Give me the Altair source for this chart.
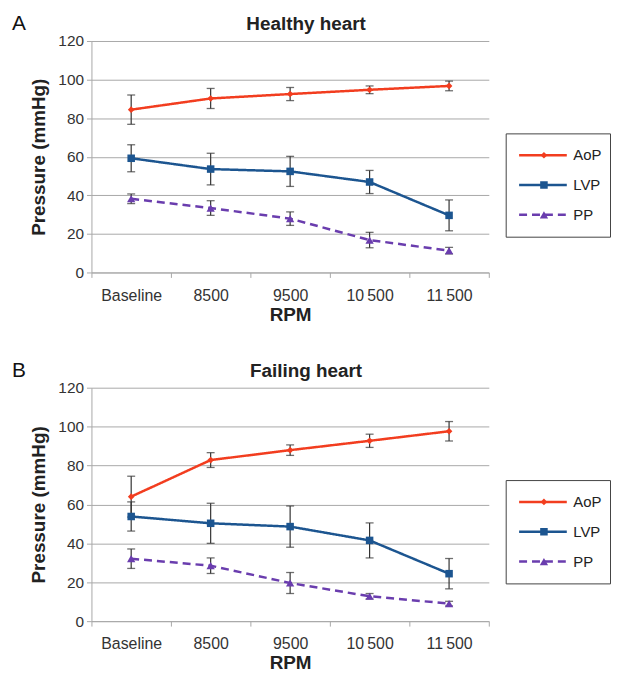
import altair as alt
import pandas as pd

rpm = ["Baseline", "8500", "9500", "10\u2009500", "11\u2009500"]
series = ["AoP", "LVP", "PP"]
colors = ["#F23D1F", "#1C5590", "#6A3DAE"]
panels = ["A", "B"]
panel_titles = ["Healthy heart", "Failing heart"]

# Healthy heart
h_aop = [84.4, 90.2, 92.5, 94.7, 96.7]
h_aop_err = [7.6, 5.2, 3.4, 2.0, 2.5]
h_lvp = [59.2, 53.6, 52.4, 46.9, 29.6]
h_lvp_err = [7.0, 8.2, 7.8, 6.0, 8.0]
h_pp = [38.2, 33.4, 27.9, 16.8, 11.3]
h_pp_err = [2.5, 3.8, 3.5, 4.0, 1.7]

# Failing heart
f_aop = [64.0, 82.8, 87.9, 92.7, 97.6]
f_aop_err = [10.5, 3.8, 2.7, 3.4, 5.0]
f_lvp = [53.8, 50.3, 48.6, 41.5, 24.4]
f_lvp_err = [7.5, 10.3, 10.6, 9.0, 7.8]
f_pp = [32.1, 28.5, 19.6, 12.8, 9.0]
f_pp_err = [5.0, 4.0, 5.4, 1.4, 1.2]

y_ticks = [0, 20, 40, 60, 80, 100, 120]


def make_df(vals, errs):
    rows = []
    for s, v, e in zip(series, vals, errs):
        for r, vi, ei in zip(rpm, v, e):
            rows.append({"rpm": r, "series": s, "series2": s, "value": vi,
                         "lo": vi - ei, "hi": vi + ei})
    return pd.DataFrame(rows)


FONT = "Liberation Sans"
GRID = "#a8a8a8"


def panel(df, letter, height):
    x = alt.X("rpm:N", sort=rpm,
              scale=alt.Scale(type="band", paddingInner=0, paddingOuter=0),
              axis=alt.Axis(title="RPM", labelAngle=0, tickBand="extent", grid=False,
                            domainColor=GRID, tickColor=GRID, tickSize=5,
                            labelFontSize=16, labelColor="#333", labelFont=FONT,
                            labelPadding=10, titleFontSize=19, titleFont=FONT,
                            titleFontWeight="bold", titleColor="#222", titlePadding=2))
    yscale = alt.Scale(domain=[0, 120])
    yaxis = alt.Axis(title="Pressure (mmHg)", values=y_ticks, grid=True,
                     gridColor=GRID, domainColor=GRID, tickColor=GRID, tickSize=5,
                     labelFontSize=15.5, labelColor="#333", labelFont=FONT,
                     labelPadding=3, titleFontSize=19, titleFont=FONT,
                     titleFontWeight="bold", titleColor="#222", titlePadding=9)
    y = alt.Y("value:Q", scale=yscale, axis=yaxis)

    leg_lines = alt.Legend(orient="none", legendX=417, legendY=93, title=None,
                           symbolType="stroke", symbolSize=2304, symbolStrokeWidth=2.5,
                           symbolOffset=4, labelOffset=5, clipHeight=28, rowPadding=2,
                           padding=8, strokeColor="#444", labelFontSize=15,
                           labelFont=FONT, labelColor="#222")
    leg_pts = alt.Legend(orient="none", legendX=417, legendY=93, title=None,
                         symbolOffset=23, clipHeight=28, rowPadding=2, padding=8,
                         labelFontSize=15, labelFont=FONT, labelExpr="''",
                         symbolStrokeWidth=0, zindex=2)

    base = alt.Chart(df).encode(x=x)
    lines = base.mark_line(strokeWidth=2.5).encode(
        y=y,
        color=alt.Color("series:N", scale=alt.Scale(domain=series, range=colors), legend=leg_lines),
        strokeDash=alt.StrokeDash("series:N", scale=alt.Scale(domain=series, range=[[1, 0], [1, 0], [8, 5]]),
                                  legend=leg_lines),
        detail="series:N",
    )
    rules = base.mark_rule(color="#333", strokeWidth=1.2).encode(
        y=alt.Y("lo:Q", scale=yscale, axis=yaxis), y2="hi:Q")
    tick_lo = base.mark_tick(color="#333", thickness=1.3, size=8).encode(
        y=alt.Y("lo:Q", scale=yscale, axis=yaxis))
    tick_hi = base.mark_tick(color="#333", thickness=1.3, size=8).encode(
        y=alt.Y("hi:Q", scale=yscale, axis=yaxis))
    pts = base.mark_point(filled=True, opacity=1).encode(
        y=y,
        shape=alt.Shape("series2:N", scale=alt.Scale(range=["diamond", "square", "triangle-up"]),
                        legend=leg_pts),
        fill=alt.Fill("series2:N", scale=alt.Scale(range=colors), legend=leg_pts),
        size=alt.Size("series2:N", scale=alt.Scale(range=[45, 70, 90]), legend=leg_pts),
    )
    lab = alt.Chart(pd.DataFrame({"panel": [letter]})).mark_text(
        font=FONT, fontSize=21, align="left", baseline="alphabetic", color="#111"
    ).encode(text="panel:N", x=alt.value(-80), y=alt.value(-11))

    return alt.layer(lines, rules, tick_lo, tick_hi, pts, lab).properties(
        width=400, height=height,
        title=alt.TitleParams(panel_titles[panels.index(letter)], fontSize=19, font=FONT,
                              fontWeight="bold", color="#222", anchor="middle", frame="group",
                              dx=16, dy=29, offset=8),
    )


top = panel(make_df([h_aop, h_lvp, h_pp], [h_aop_err, h_lvp_err, h_pp_err]), "A", 233)
bot = panel(make_df([f_aop, f_lvp, f_pp], [f_aop_err, f_lvp_err, f_pp_err]), "B", 235)

chart = alt.vconcat(top, bot, spacing=36).resolve_scale(
    color="independent", strokeDash="independent", shape="independent",
    fill="independent", size="independent"
).properties(padding={"left": 4, "top": 3, "right": 0, "bottom": 0}).configure_view(stroke=None)

chart.save("out.html", embed_options={"renderer": "svg", "actions": False})
